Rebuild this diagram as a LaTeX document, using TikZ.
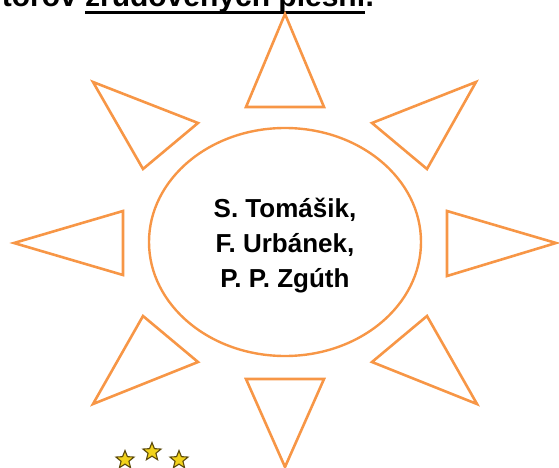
\documentclass[tikz,border=0pt]{standalone}
\usepackage{fontspec}
\setmainfont{Liberation Sans}
\usepackage{tikz}
\usetikzlibrary{shapes.geometric}
\definecolor{sunorange}{HTML}{F79646}
\definecolor{staryellow}{HTML}{F2D21B}
\definecolor{starrim}{HTML}{5C4A0A}

\begin{document}
\begin{tikzpicture}[x=1pt, y=-1pt,
    ray/.style={draw=sunorange, line width=2.6pt, line join=miter},
    headtext/.style={font=\bfseries\fontsize{30}{34}\selectfont, inner sep=0pt},
    eustar/.style={star, star points=5, star point ratio=2.3, minimum size=19pt,
        inner sep=0pt, fill=staryellow, draw=starrim, line width=1.1pt}]

\useasboundingbox (0,0) rectangle (559,468);

% Heading (cut off by the top edge)
\node[headtext, anchor=base west] (songs) at (85,7) {zľudovených piesní};
\node[headtext, anchor=base west] (stop) at (songs.base east) {.};
\node[headtext, anchor=base east] (authors) at ([xshift=-8pt]songs.base west) {torov};
\draw[line width=3pt] ([yshift=-5.5pt]songs.base west) -- ([yshift=-5.5pt]songs.base east);

% Sun body
\draw[sunorange, line width=2.4pt] (285,242) ellipse [x radius=136, y radius=114];
\node[font=\bfseries\fontsize{26}{35}\selectfont, align=center] (names) at (285,246)
    {S. Tomášik,\\F. Urbánek,\\P. P. Zgúth};

% Rays
\draw[ray] (285,14) -- (324,107) -- (246,107) -- cycle;   % top
\draw[ray] (476,82) -- (427,169) -- (372,123) -- cycle;   % top right
\draw[ray] (556,243) -- (447,276) -- (447,211) -- cycle;  % right
\draw[ray] (477,404) -- (372,362) -- (427,316) -- cycle;  % bottom right
\draw[ray] (285,467) -- (246,379) -- (324,379) -- cycle;  % bottom
\draw[ray] (93,404) -- (143,316) -- (198,362) -- cycle;   % bottom left
\draw[ray] (14,243) -- (123,211) -- (123,275) -- cycle;   % left
\draw[ray] (93,82) -- (198,123) -- (143,169) -- cycle;    % top left

% Stars
\node[eustar] (star1) at (125,460) {};
\node[eustar] (star2) at (152,452) {};
\node[eustar] (star3) at (179,460) {};

\end{tikzpicture}
\end{document}
